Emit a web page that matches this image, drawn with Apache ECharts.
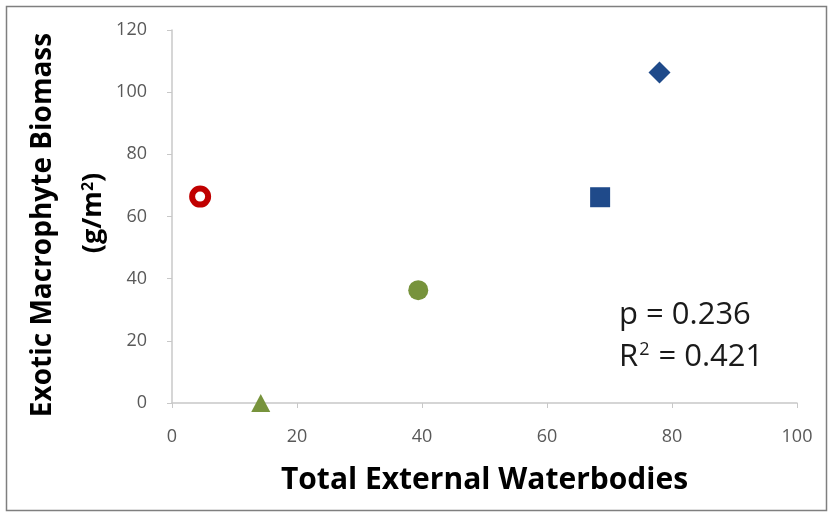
<!DOCTYPE html>
<html><head><meta charset="utf-8">
<script src="https://cdn.jsdelivr.net/npm/echarts@6/dist/echarts.min.js"></script>
<style>html,body{margin:0;padding:0;background:#fff}#c{width:830px;height:515px}</style>
</head><body><div id="c"></div>
<script>
// Data
const names = ['Open circle', 'Triangle', 'Circle', 'Square', 'Diamond'];
const xValues = [4.5, 14.2, 39.4, 68.5, 78];
const yValues = [66.4, 0, 36.3, 66.2, 106.3];
const xTicks = [0, 20, 40, 60, 80, 100];
const yTicks = [0, 20, 40, 60, 80, 100, 120];
const statsP = 'p = 0.236';
const statsR = ['R', '2', ' = 0.421'];

const styles = [
  {symbol: 'circle', symbolSize: 16, itemStyle: {color: '#fff', borderColor: '#C00000', borderWidth: 6, opacity: 1}},
  {symbol: 'triangle', symbolSize: [19, 18], itemStyle: {color: '#77933C', opacity: 1}},
  {symbol: 'circle', symbolSize: 20, itemStyle: {color: '#77933C', opacity: 1}},
  {symbol: 'rect', symbolSize: 20, itemStyle: {color: '#1F4A8A', opacity: 1}},
  {symbol: 'diamond', symbolSize: 22, itemStyle: {color: '#1F4A8A', opacity: 1}}
];

const series = names.map((n, i) => Object.assign({
  type: 'scatter', name: n, data: [[xValues[i], yValues[i]]], z: 5
}, styles[i]));

const font = '"Open Sans", sans-serif';
const chart = echarts.init(document.getElementById('c'));
chart.setOption({
  animation: false,
  backgroundColor: '#fff',
  grid: {left: 172, right: 33, top: 30, bottom: 112},
  xAxis: {
    type: 'value', min: xTicks[0], max: xTicks[xTicks.length - 1], interval: 20,
    splitLine: {show: false},
    axisLine: {show: true, lineStyle: {color: '#C8C8C8', width: 1.5}},
    axisTick: {show: true, length: 5, lineStyle: {color: '#C8C8C8'}},
    axisLabel: {color: '#595959', fontSize: 18, fontFamily: font, margin: 25},
    name: 'Total External Waterbodies', nameLocation: 'middle', nameGap: 62,
    nameTextStyle: {color: '#000', fontSize: 30, fontWeight: 'bold', fontFamily: font}
  },
  yAxis: {
    type: 'value', min: yTicks[0], max: yTicks[yTicks.length - 1], interval: 20,
    splitLine: {show: false},
    axisLine: {show: true, lineStyle: {color: '#C8C8C8', width: 1.5}},
    axisTick: {show: true, length: 5, lineStyle: {color: '#C8C8C8'}},
    axisLabel: {color: '#595959', fontSize: 18, fontFamily: font, margin: 25}
  },
  graphic: [
    {type: 'rect', shape: {x: 6.5, y: 6.5, width: 820, height: 504}, style: {fill: 'none', stroke: '#7F7F7F', lineWidth: 1.5}, z: -1},
    {type: 'text', x: 43, y: 225, rotation: Math.PI / 2,
     style: {text: 'Exotic Macrophyte Biomass', fill: '#000', fontSize: 28, fontWeight: 'bold', fontFamily: font, align: 'center', verticalAlign: 'middle'}},
    {type: 'text', x: 93, y: 213, rotation: Math.PI / 2,
     style: {text: '(g/m{s|2})', fill: '#000', fontSize: 27, fontWeight: 'bold', fontFamily: font, align: 'center', verticalAlign: 'middle',
       rich: {s: {fontSize: 16, fontWeight: 'bold', fontFamily: font, fill: '#000', padding: [0, 0, 10, 0]}}}},
    {type: 'text', x: 619, y: 315,
     style: {text: statsP, fill: '#1a1a1a', fontSize: 31, fontFamily: font, align: 'left', verticalAlign: 'middle'}},
    {type: 'text', x: 619, y: 357,
     style: {text: '{b|' + statsR[0] + '}{s|' + statsR[1] + '}{b|' + statsR[2] + '}', fill: '#1a1a1a', fontSize: 31, fontFamily: font, align: 'left', verticalAlign: 'middle',
       rich: {b: {fontSize: 31, fontFamily: font, fill: '#1a1a1a'}, s: {fontSize: 18, fontFamily: font, fill: '#1a1a1a', padding: [0, 1, 14, 1]}}}}
  ],
  series: series
});
</script></body></html>
